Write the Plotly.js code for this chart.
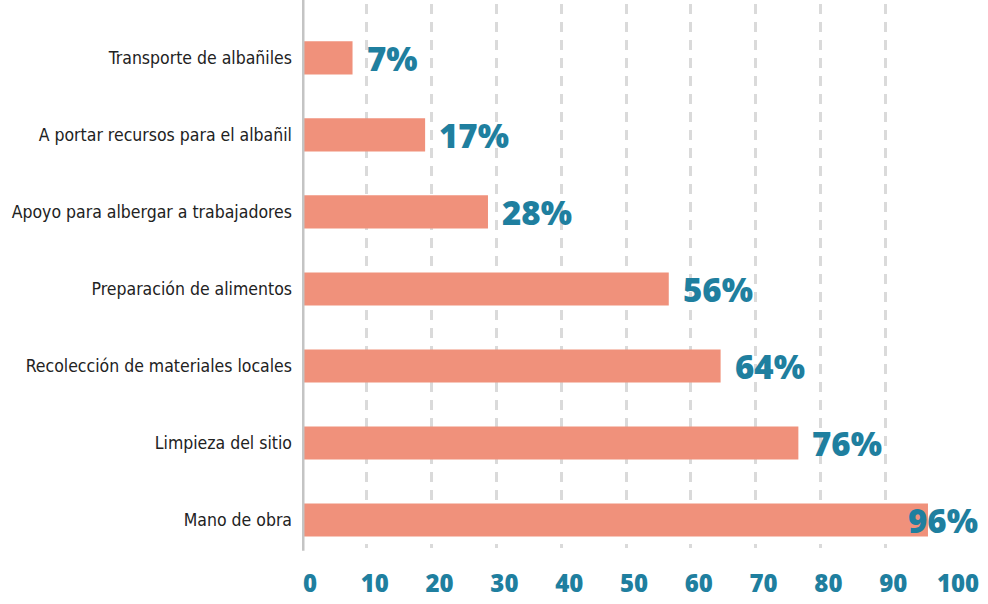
<!DOCTYPE html>
<html>
<head>
<meta charset="utf-8">
<script src="https://cdn.plot.ly/plotly-3.0.1.min.js"></script>
<style>html,body{margin:0;padding:0;background:#fff;}#chart{width:988px;height:604px;}</style>
</head>
<body>
<div id="chart"></div>
<script>
var categories = [
  "Mano de obra",
  "Limpieza del sitio",
  "Recolección de materiales locales",
  "Preparación de alimentos",
  "Apoyo para albergar a trabajadores",
  "A portar recursos para el albañil",
  "Transporte de albañiles"
];
var barValues = [96.6, 76.6, 64.6, 56.6, 28.7, 19, 7.8];
var valueLabels = ["96%", "76%", "64%", "56%", "28%", "17%", "7%"];
var tickValues = [0, 10, 20, 30, 40, 50, 60, 70, 80, 90, 100];

var teal = "#1f7f9f";
var trace = {
  type: "bar",
  orientation: "h",
  y: categories,
  x: barValues,
  width: 0.43,
  marker: {color: "#f0917b"},
  hoverinfo: "none"
};

var annotations = categories.map(function (c, i) {
  var big = barValues[i] > 90;
  return {
    x: barValues[i], y: c, xref: "x", yref: "y",
    text: valueLabels[i],
    showarrow: false,
    xanchor: "left",
    xshift: big ? -22 : 12,
    yshift: -1,
    font: {family: "'Open Sans', Lato, sans-serif", size: 33, color: teal, weight: 800}
  };
});

var layout = {
  width: 988, height: 604,
  margin: {l: 302, r: 38, t: 4, b: 56},
  paper_bgcolor: "#fff", plot_bgcolor: "#fff",
  showlegend: false,
  xaxis: {
    range: [0, 100],
    tickvals: tickValues,
    ticktext: tickValues.map(String),
    showgrid: true,
    gridcolor: "#dadada",
    gridwidth: 3,
    griddash: "10px,8px",
    zeroline: false,
    showline: false,
    ticks: "",
    ticklabelstandoff: 19,
    ticklabelshift: 8,
    tickfont: {family: "'Open Sans', Lato, sans-serif", size: 24, color: teal, weight: 800},
    fixedrange: true
  },
  yaxis: {
    type: "category",
    showgrid: false,
    zeroline: false,
    showline: false,
    ticks: "",
    ticklabelstandoff: 9,
    range: [-0.364, 6.70],
    tickfont: {family: "'DejaVu Sans Condensed', sans-serif", size: 17.5, color: "#222"},
    fixedrange: true
  },
  shapes: [{
    type: "line", xref: "x", yref: "paper",
    x0: 0, x1: 0, y0: -0.005, y1: 1.01,
    line: {color: "#c4c4c4", width: 5}
  }],
  annotations: annotations
};

Plotly.newPlot("chart", [trace], layout, {displayModeBar: false, staticPlot: true});
</script>
</body>
</html>
